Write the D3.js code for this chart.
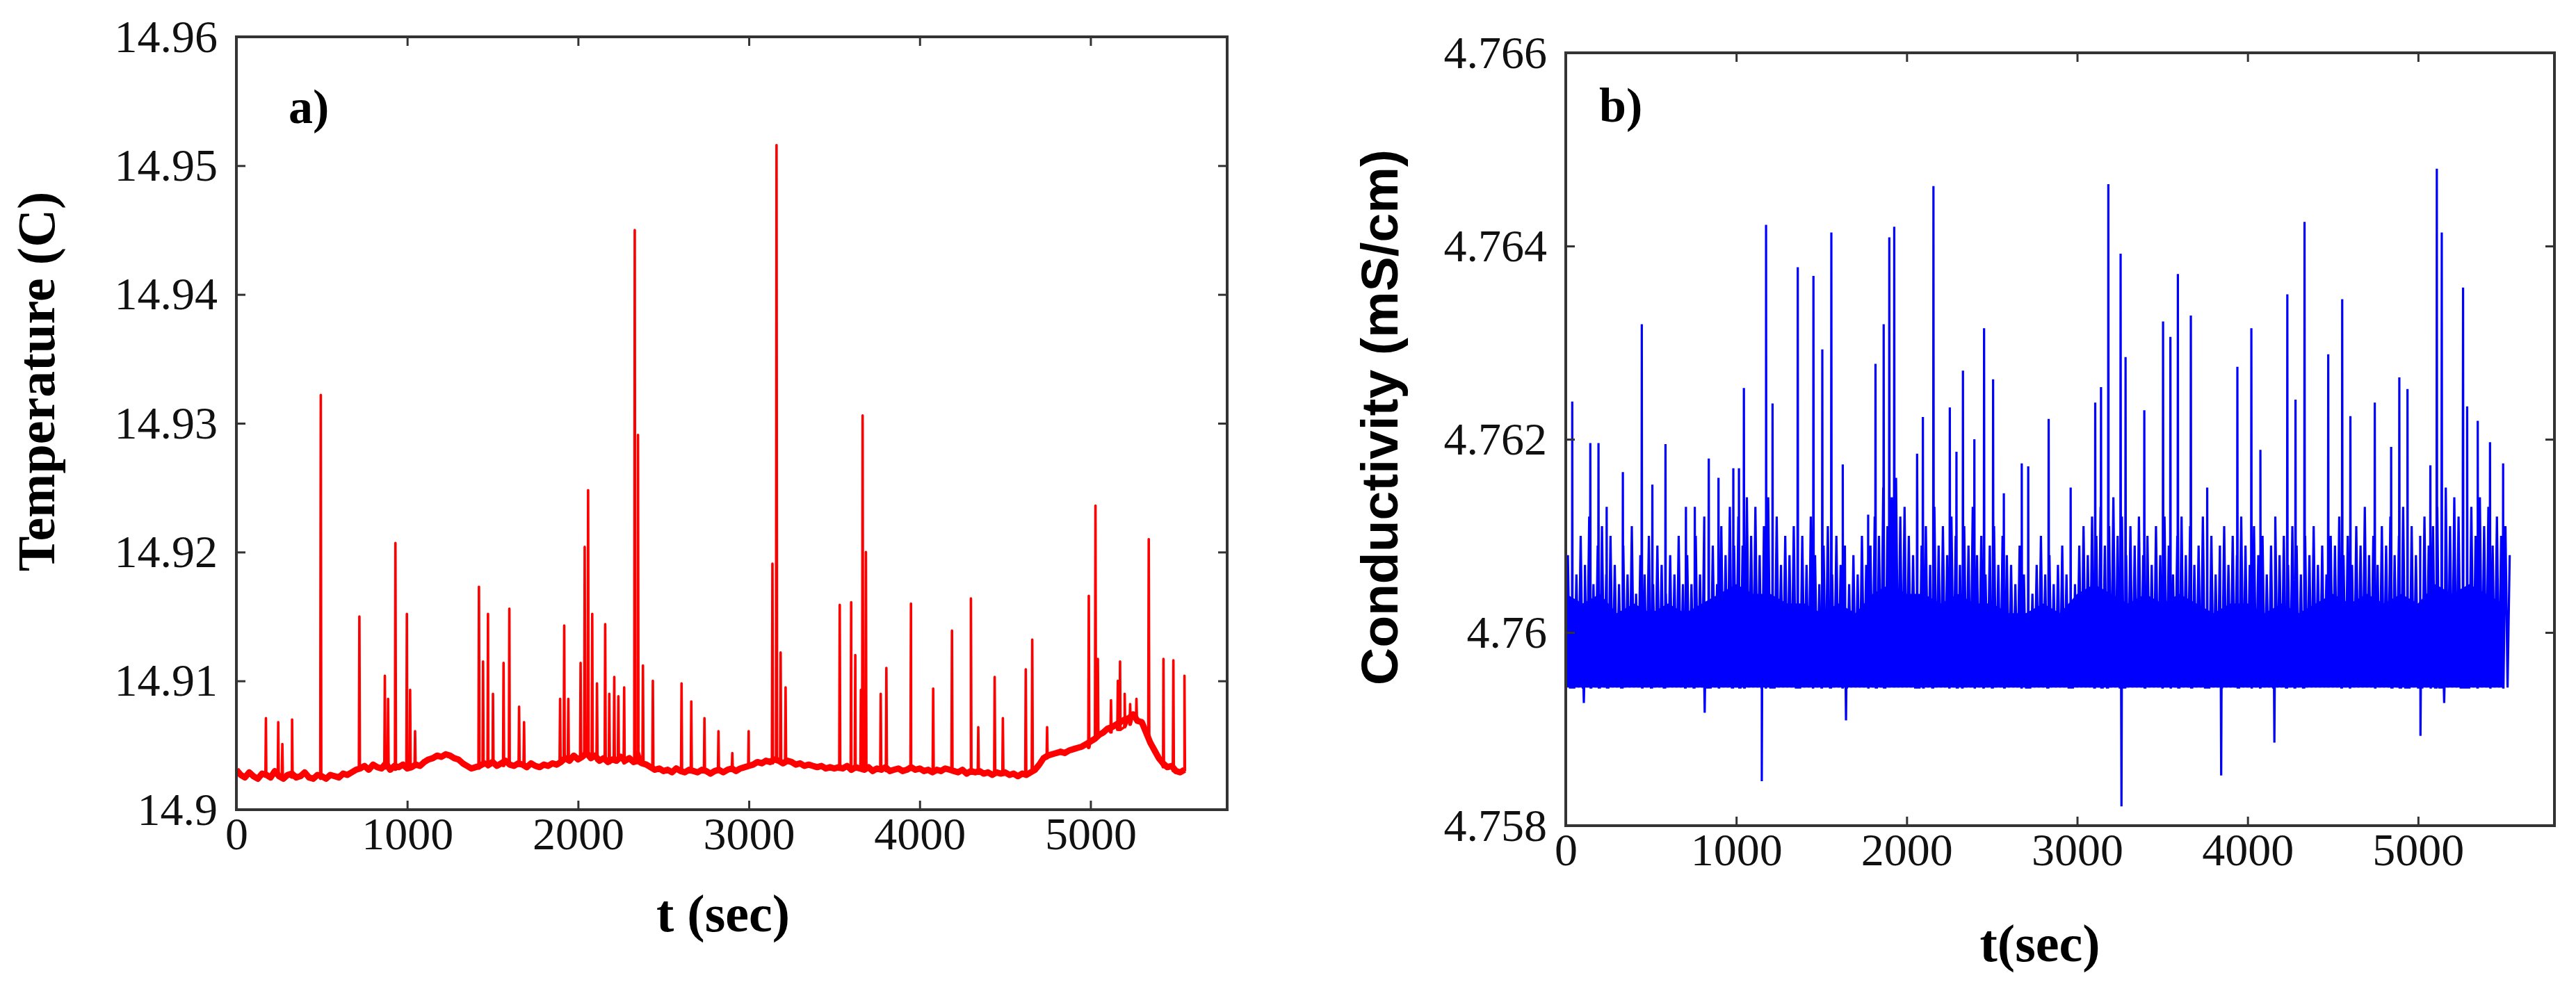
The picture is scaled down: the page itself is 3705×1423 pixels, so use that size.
<!doctype html>
<html>
<head>
<meta charset="utf-8">
<title>Temperature and Conductivity vs time</title>
<script src="https://cdn.jsdelivr.net/npm/d3@7"></script>
<style>
  body { margin: 0; background: #fff; }
  .tick line { stroke: #333; stroke-width: 3px; }
</style>
</head>
<body>
<div id="chart-area"></div>
<script>
// ---- data ----
var timeTicks = [0, 1000, 2000, 3000, 4000, 5000];
var tempTicks = [14.9, 14.91, 14.92, 14.93, 14.94, 14.95, 14.96];
var condTicks = [4.758, 4.760, 4.762, 4.764, 4.766];

// temperature baseline, one value every 25 s from t = 0
var tempStep = 25;
var tempBase = [
  14.9031, 14.9027, 14.9025, 14.9029, 14.9026, 14.9024, 14.9028, 14.9027, 14.9025, 14.9030, 14.9026,
  14.9024, 14.9027, 14.9028, 14.9025, 14.9026, 14.9029, 14.9025, 14.9024, 14.9027, 14.9026,
  14.9024, 14.9027, 14.9026, 14.9025, 14.9028, 14.9027, 14.9029, 14.9031,
  14.9032, 14.9034, 14.9031, 14.9035, 14.9033, 14.9032, 14.9036, 14.9031, 14.9034, 14.9033, 14.9035, 14.9032,
  14.9033, 14.9035, 14.9034, 14.9037, 14.9039, 14.9040, 14.9042, 14.9041, 14.9043, 14.9042, 14.9040, 14.9039,
  14.9036, 14.9034, 14.9032, 14.9033,
  14.9034, 14.9036, 14.9035, 14.9037, 14.9034, 14.9036, 14.9038, 14.9035, 14.9034, 14.9036, 14.9035, 14.9033,
  14.9036, 14.9034, 14.9033, 14.9035, 14.9034, 14.9036, 14.9035, 14.9037,
  14.9040, 14.9038, 14.9042, 14.9039, 14.9041, 14.9044, 14.9040, 14.9042, 14.9038, 14.9040, 14.9037, 14.9039,
  14.9038, 14.9041, 14.9038, 14.9040, 14.9037, 14.9038, 14.9036, 14.9035,
  14.9033, 14.9031, 14.9032, 14.9030, 14.9031, 14.9029, 14.9032, 14.9030, 14.9029, 14.9031, 14.9030, 14.9029,
  14.9031, 14.9030, 14.9028, 14.9030, 14.9031, 14.9029, 14.9031, 14.9032, 14.9030, 14.9032, 14.9033, 14.9034,
  14.9035, 14.9037, 14.9036, 14.9038, 14.9037, 14.9039, 14.9038, 14.9036, 14.9038, 14.9037, 14.9035, 14.9036,
  14.9034, 14.9035, 14.9034, 14.9033, 14.9034, 14.9032, 14.9033, 14.9032,
  14.9033, 14.9032, 14.9034, 14.9031, 14.9033, 14.9032, 14.9031, 14.9033, 14.9030, 14.9032, 14.9031, 14.9033,
  14.9030, 14.9031, 14.9032, 14.9030, 14.9031, 14.9033, 14.9031, 14.9032, 14.9030, 14.9031, 14.9029, 14.9031,
  14.9030, 14.9032, 14.9031, 14.9030, 14.9029, 14.9031, 14.9028, 14.9030, 14.9029, 14.9030, 14.9028, 14.9029,
  14.9027, 14.9029, 14.9028, 14.9029,
  14.9027, 14.9028, 14.9026, 14.9028, 14.9027, 14.9029, 14.9031, 14.9035,
  14.9040, 14.9042, 14.9043, 14.9044, 14.9045, 14.9044, 14.9046, 14.9047, 14.9048, 14.9049, 14.9051, 14.9053,
  14.9055, 14.9058, 14.9060, 14.9063, 14.9064, 14.9066, 14.9068, 14.9070, 14.9071, 14.9074, 14.9069, 14.9068,
  14.9060, 14.9052, 14.9046, 14.9040, 14.9036, 14.9033, 14.9034, 14.9030, 14.9029, 14.9031
];

// temperature spikes: [time, foot, peak]
var tempSpikes = [
  [173,14.9026,14.9071],[245,14.9025,14.9068],[269,14.9026,14.9051],[326,14.9025,14.9070],
  [494,14.9024,14.9322],[720,14.9031,14.9150],[869,14.9032,14.9104],[888,14.9033,14.9086],
  [931,14.9031,14.9207],[998,14.9032,14.9152],[1017,14.9033,14.9093],[1046,14.9034,14.9061],
  [1420,14.9032,14.9173],[1444,14.9034,14.9115],[1473,14.9033,14.9152],[1502,14.9035,14.9090],
  [1564,14.9034,14.9114],[1598,14.9035,14.9156],[1655,14.9034,14.9080],[1684,14.9035,14.9068],
  [1895,14.9036,14.9086],[1919,14.9038,14.9143],[1943,14.9040,14.9086],[2015,14.9040,14.9114],
  [2039,14.9042,14.9204],[2059,14.9044,14.9248],[2083,14.9040,14.9152],[2111,14.9038,14.9098],
  [2159,14.9038,14.9144],[2183,14.9036,14.9090],[2212,14.9040,14.9103],[2236,14.9038,14.9088],
  [2270,14.9036,14.9095],[2332,14.9040,14.9450],[2351,14.9045,14.9291],[2380,14.9036,14.9112],
  [2438,14.9033,14.9100],[2606,14.9030,14.9098],[2663,14.9029,14.9084],[2740,14.9030,14.9071],
  [2822,14.9030,14.9061],[2903,14.9031,14.9044],[2999,14.9034,14.9061],[3138,14.9036,14.9191],
  [3162,14.9040,14.9516],[3186,14.9038,14.9122],[3215,14.9036,14.9095],[3532,14.9031,14.9159],
  [3599,14.9032,14.9161],[3623,14.9034,14.9120],[3656,14.9033,14.9093],[3666,14.9035,14.9306],
  [3685,14.9033,14.9200],[3772,14.9031,14.9090],[3805,14.9030,14.9110],[3949,14.9031,14.9160],
  [4079,14.9030,14.9094],[4189,14.9031,14.9139],[4300,14.9030,14.9164],[4343,14.9029,14.9064],
  [4439,14.9028,14.9103],[4487,14.9027,14.9071],[4621,14.9028,14.9109],[4659,14.9030,14.9132],
  [4746,14.9040,14.9064],[4990,14.9048,14.9166],[5029,14.9055,14.9236],[5043,14.9056,14.9117],
  [5120,14.9060,14.9085],[5160,14.9062,14.9100],[5173,14.9062,14.9115],[5200,14.9064,14.9090],
  [5232,14.9066,14.9082],[5269,14.9068,14.9086],[5341,14.9056,14.9210],[5427,14.9033,14.9117],
  [5485,14.9030,14.9116],[5550,14.9030,14.9104]
];

// conductivity: lower edge of the band, top of the dense lines every 25 s, solid core every 100 s
var condFloor = 4.75943;
var condStep = 25;
var condHigh = [
  4.7608, 4.7611, 4.7606, 4.7610, 4.7607, 4.7612, 4.7605, 4.7609, 4.7611, 4.7606, 4.7610, 4.7607,
  4.7605, 4.7609, 4.7606, 4.7611, 4.7604, 4.7608, 4.7606, 4.7610, 4.7605, 4.7609, 4.7607, 4.7604,
  4.7608, 4.7606, 4.7610, 4.7605,
  4.7608, 4.7605, 4.7610, 4.7606, 4.7612, 4.7607, 4.7609, 4.7605, 4.7611, 4.7608, 4.7613, 4.7609,
  4.7612, 4.7609, 4.7614, 4.7610, 4.7613, 4.7608, 4.7611, 4.7614, 4.7609, 4.7612, 4.7607, 4.7610,
  4.7608, 4.7611, 4.7606, 4.7610, 4.7607, 4.7612, 4.7608, 4.7605, 4.7609, 4.7611, 4.7606, 4.7610,
  4.7607, 4.7609, 4.7605, 4.7608, 4.7606, 4.7610, 4.7607, 4.7609,
  4.7612, 4.7610, 4.7615, 4.7611, 4.7614, 4.7616, 4.7612, 4.7613,
  4.7610, 4.7608, 4.7612, 4.7609, 4.7611, 4.7607, 4.7613, 4.7609, 4.7611, 4.7608, 4.7612, 4.7610,
  4.7607, 4.7611, 4.7609, 4.7613, 4.7608, 4.7610, 4.7606, 4.7609, 4.7611, 4.7607, 4.7610, 4.7608,
  4.7607, 4.7605, 4.7609, 4.7606, 4.7608, 4.7604, 4.7607, 4.7610, 4.7606, 4.7608, 4.7605, 4.7607,
  4.7609, 4.7606, 4.7608, 4.7605,
  4.7609, 4.7611, 4.7608, 4.7612, 4.7610, 4.7613, 4.7609, 4.7611, 4.7614, 4.7610, 4.7612, 4.7608,
  4.7611, 4.7609, 4.7612, 4.7608,
  4.7610, 4.7607, 4.7611, 4.7608, 4.7612, 4.7609, 4.7606, 4.7610, 4.7612, 4.7608, 4.7611, 4.7607,
  4.7609, 4.7612, 4.7608, 4.7610, 4.7606, 4.7609, 4.7611, 4.7607, 4.7610, 4.7608, 4.7612, 4.7609,
  4.7607, 4.7611, 4.7608, 4.7610, 4.7606, 4.7609, 4.7612, 4.7608, 4.7610, 4.7607, 4.7611, 4.7609,
  4.7606, 4.7610, 4.7608, 4.7611, 4.7607, 4.7609, 4.7606, 4.7610,
  4.7609, 4.7612, 4.7608, 4.7610, 4.7607, 4.7611, 4.7609, 4.7613, 4.7608, 4.7610, 4.7607, 4.7611,
  4.7609, 4.7612, 4.7608, 4.7610, 4.7613, 4.7609, 4.7611, 4.7608, 4.7610, 4.7612, 4.7609, 4.7611,
  4.7613, 4.7610, 4.7615, 4.7611, 4.7614, 4.7612, 4.7616, 4.7611, 4.7613, 4.7610, 4.7614, 4.7611,
  4.7613, 4.7609, 4.7612, 4.7610, 4.7611, 4.7608
];
var coreStep = 100;
var condCore = [
  4.7604, 4.7603, 4.7604, 4.7602, 4.7603, 4.7602, 4.7603, 4.7602, 4.7603, 4.7604, 4.7605, 4.7604,
  4.7604, 4.7603, 4.7603, 4.7602, 4.7603, 4.7602, 4.7604, 4.7605, 4.7604, 4.7604, 4.7603, 4.7604,
  4.7603, 4.7603, 4.7602, 4.7602, 4.7603, 4.7602, 4.7604, 4.7605, 4.7604, 4.7603, 4.7604, 4.7603,
  4.7604, 4.7603, 4.7602, 4.7603, 4.7603, 4.7602, 4.7603, 4.7602, 4.7603, 4.7604, 4.7603, 4.7604,
  4.7603, 4.7604, 4.7603, 4.7605, 4.7604, 4.7605, 4.7604, 4.7603
];
// tall spikes [time, peak] and downward spikes [time, value]
var condSpikes = [
  [38,4.76239],[144,4.76196],[192,4.76196],[240,4.7613],[335,4.76166],[446,4.76319],[508,4.76153],
  [585,4.76195],[705,4.7613],[757,4.7613],[839,4.7618],[896,4.7616],[983,4.7617],[1016,4.7617],
  [1045,4.76253],[1175,4.76422],[1213,4.76237],[1361,4.76378],[1453,4.76369],[1505,4.76293],
  [1558,4.76414],[1625,4.76174],[1774,4.76122],[1817,4.76278],[1865,4.76319],[1898,4.76409],
  [1927,4.7642],[2061,4.76185],[2095,4.76223],[2157,4.76462],[2253,4.76233],[2292,4.76187],
  [2330,4.76271],[2397,4.762],[2454,4.76315],[2507,4.76262],[2570,4.76144],[2675,4.76175],
  [2713,4.76172],[2833,4.76221],[2962,4.7615],[3106,4.76238],[3140,4.76254],[3183,4.76464],
  [3255,4.76392],[3284,4.76285],[3394,4.7623],[3504,4.76322],[3547,4.76306],[3591,4.76371],
  [3667,4.76328],[3763,4.7615],[3940,4.76275],[4022,4.76315],[4075,4.76189],[4233,4.7635],
  [4281,4.76241],[4334,4.76425],[4473,4.76288],[4555,4.76345],[4603,4.76224],[4746,4.76238],
  [4842,4.76192],[4890,4.76264],[4938,4.76252],[5072,4.76173],[5110,4.7648],[5139,4.76414],
  [5264,4.76357],[5288,4.76234],[5350,4.76219],[5422,4.76197],[5499,4.76175]
];
var condDips = [
  [106,4.75927],[815,4.75917],[1150,4.75846],[1644,4.75909],[3260,4.7582],
  [3845,4.75852],[4157,4.75886],[5014,4.75893],[5153,4.75927]
];

var svg = d3.select("#chart-area").append("svg").attr("width", 3705).attr("height", 1423);

function fmt(d) { return String(+d.toFixed(3)); }

// frame, inner ticks on all four sides, labels bottom and left
function drawFrame(g, x, y, w, h, yTicks) {
    g.append("g").attr("transform", "translate(0," + h + ")")
        .call(d3.axisBottom(x).tickValues(timeTicks).tickSize(-13).tickPadding(10).tickFormat(fmt));
    g.append("g")
        .call(d3.axisTop(x).tickValues(timeTicks).tickSize(-13).tickFormat(""));
    g.append("g")
        .call(d3.axisLeft(y).tickValues(yTicks).tickSize(-13).tickPadding(27).tickFormat(fmt));
    g.append("g").attr("transform", "translate(" + w + ",0)")
        .call(d3.axisRight(y).tickValues(yTicks).tickSize(-13).tickFormat(""));
    g.selectAll(".domain").remove();
    g.selectAll(".tick text").attr("font-family", "'Liberation Serif', serif")
        .attr("font-size", "66px").attr("fill", "#111");
    g.append("rect").attr("width", w).attr("height", h)
        .attr("fill", "none").attr("stroke", "#333").attr("stroke-width", 4);
}

// ---- a) temperature ----
var gA = svg.append("g").attr("transform", "translate(340,53)");
var wA = 1425, hA = 1112;
var xA = d3.scaleLinear().domain([0, 5800]).range([0, wA]);
var yA = d3.scaleLinear().domain([14.9, 14.96]).range([hA, 0]);

var tempPts = tempBase.map(function(v, i){ return [i * tempStep, v]; });
var basePts = tempPts.slice();
tempSpikes.forEach(function(s){
    tempPts.push([s[0] - 3, s[1]], [s[0], s[2]], [s[0] + 3, s[1]]);
});
tempPts.sort(function(a, b){ return a[0] - b[0]; });

var tempLine = d3.line().x(function(d){ return xA(d[0]); }).y(function(d){ return yA(d[1]); });
gA.append("clipPath").attr("id", "clipA").append("rect").attr("width", wA).attr("height", hA);
// noisy baseline drawn as a thick band, then the full trace with its spikes
gA.append("path").datum(basePts)
    .attr("clip-path", "url(#clipA)")
    .attr("fill", "none").attr("stroke", "#ff0000").attr("stroke-width", 9)
    .attr("stroke-linejoin", "round")
    .attr("d", tempLine);
gA.append("path").datum(tempPts)
    .attr("clip-path", "url(#clipA)")
    .attr("fill", "none").attr("stroke", "#ff0000").attr("stroke-width", 3.6)
    .attr("stroke-linejoin", "round")
    .attr("d", tempLine);

drawFrame(gA, xA, yA, wA, hA, tempTicks);

gA.append("text").attr("x", 75).attr("y", 124)
    .attr("font-family", "'Liberation Serif', serif").attr("font-weight", "bold").attr("font-size", "70px")
    .text("a)");
svg.append("text").attr("x", 1040).attr("y", 1340).attr("text-anchor", "middle")
    .attr("font-family", "'Liberation Serif', serif").attr("font-weight", "bold").attr("font-size", "76px")
    .text("t (sec)");
svg.append("text").attr("transform", "translate(78,549) rotate(-90)").attr("text-anchor", "middle")
    .attr("font-family", "'Liberation Serif', serif").attr("font-weight", "bold").attr("font-size", "76px")
    .text("Temperature (C)");

// ---- b) conductivity ----
var gB = svg.append("g").attr("transform", "translate(2252,76)");
var wB = 1422, hB = 1112;
var xB = d3.scaleLinear().domain([0, 5800]).range([0, wB]);
var yB = d3.scaleLinear().domain([4.758, 4.766]).range([hB, 0]);

gB.append("clipPath").attr("id", "clipB").append("rect").attr("width", wB).attr("height", hB);

var lastT = (condHigh.length - 1) * condStep + condStep / 2;
gB.append("path").datum(condCore)
    .attr("clip-path", "url(#clipB)")
    .attr("fill", "#0000ff")
    .attr("d", d3.area()
        .x(function(d, i){ return xB(Math.min(i * coreStep, lastT)); })
        .y0(yB(condFloor))
        .y1(function(d){ return yB(d); }));

var condPts = [];
condHigh.forEach(function(v, i){
    condPts.push([i * condStep, condFloor], [i * condStep + condStep / 2, v]);
});
condSpikes.concat(condDips).forEach(function(s){
    condPts.push([s[0] - 2, condFloor], [s[0], s[1]], [s[0] + 2, condFloor]);
});
condPts.sort(function(a, b){ return a[0] - b[0]; });

gB.append("path").datum(condPts)
    .attr("clip-path", "url(#clipB)")
    .attr("fill", "none").attr("stroke", "#0000ff").attr("stroke-width", 3.2)
    .attr("d", d3.line().x(function(d){ return xB(d[0]); }).y(function(d){ return yB(d[1]); }));

drawFrame(gB, xB, yB, wB, hB, condTicks);

gB.append("text").attr("x", 48).attr("y", 99)
    .attr("font-family", "'Liberation Serif', serif").attr("font-weight", "bold").attr("font-size", "70px")
    .text("b)");
svg.append("text").attr("x", 2934).attr("y", 1383).attr("text-anchor", "middle")
    .attr("font-family", "'Liberation Serif', serif").attr("font-weight", "bold").attr("font-size", "76px")
    .text("t(sec)");
svg.append("text").attr("transform", "translate(2010,215) rotate(-90)").attr("text-anchor", "end")
    .attr("font-family", "'Liberation Sans', Arial, sans-serif").attr("font-weight", "bold").attr("font-size", "75px")
    .text("Conductivity (mS/cm)");
</script>
</body>
</html>
